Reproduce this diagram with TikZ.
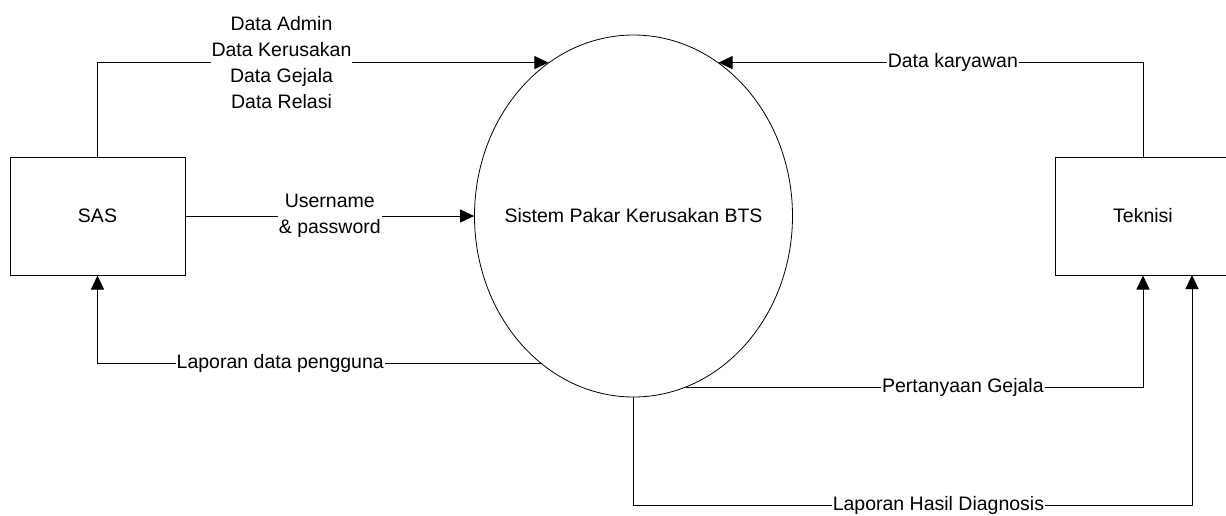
\documentclass[tikz,border=0pt]{standalone}
\usepackage{fontspec}
\setmainfont{Liberation Sans}
\usetikzlibrary{shapes.geometric,arrows.meta,calc}
\begin{document}
\begin{tikzpicture}[x=1pt,y=-1pt,
  every node/.style={font=\fontsize{19.5}{26}\selectfont},
  entity/.style={draw,line width=1pt,minimum width=175pt,minimum height=118pt,inner sep=0pt},
  process/.style={draw,ellipse,line width=0.8pt,minimum width=318pt,minimum height=362pt,inner sep=0pt},
  flow/.style={line width=1pt,-{Triangle[length=14pt,width=13pt]}},
  lbl/.style={fill=white,inner sep=1pt,align=center}]
\clip (0,0) rectangle (1226,515);
\useasboundingbox (0,0) rectangle (1226,515);
\node[entity] (sas) at (97.5,216) {SAS};
\node[entity] (tek) at (1143,216) {Teknisi};
\node[process,label={center:Sistem Pakar Kerusakan BTS}] (proc) at (633.5,216) {};
\coordinate (tk2) at (1192,275);
\coordinate (lhd) at (633.5,505);
% SAS -> process (data)
\draw[flow] (sas.north) |- (proc.119.3)
  node[lbl,pos=0.704] {Data Admin\\Data Kerusakan\\Data Gejala\\Data Relasi};
% SAS -> process (login)
\draw[flow] (sas.east) -- (proc.west)
  node[lbl,midway] {Username\\\& password};
% process -> SAS
\draw[flow] (proc.238.5) -| (sas.south)
  node[lbl,pos=0.294] {Laporan data pengguna};
% Teknisi -> process
\draw[flow] (tek.north) |- (proc.61.4)
  node[lbl,pos=0.724] {Data karyawan};
% process -> Teknisi (questions)
\draw[flow] (proc.-73) -| (tek.south)
  node[lbl,pos=0.303] {Pertanyaan Gejala};
% process -> Teknisi (diagnosis)
\draw[flow] (proc.south) -- (lhd) -| (tk2)
  node[lbl,pos=0.273] {Laporan Hasil Diagnosis};
\end{tikzpicture}
\end{document}
